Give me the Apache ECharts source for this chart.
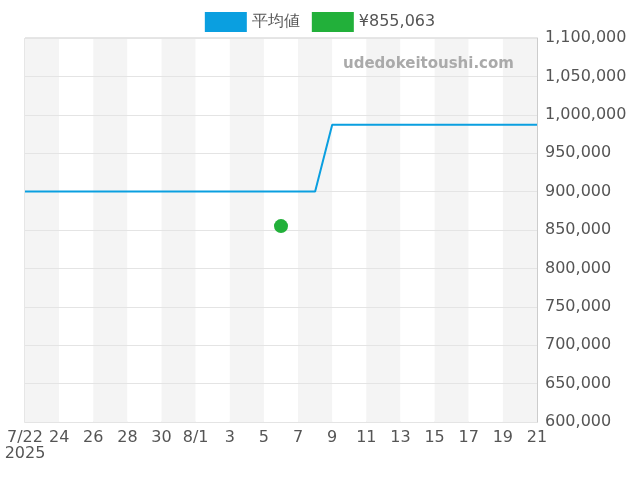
<!DOCTYPE html>
<html><head><meta charset="utf-8">
<script src="https://cdn.jsdelivr.net/npm/echarts@6/dist/echarts.min.js"></script>
<style>html,body{margin:0;padding:0}#c{width:640px;height:480px}</style>
</head><body><div id="c"></div>
<script>
const categories = ['7/22','7/23','7/24','7/25','7/26','7/27','7/28','7/29','7/30','7/31','8/1','8/2','8/3','8/4','8/5','8/6','8/7','8/8','8/9','8/10','8/11','8/12','8/13','8/14','8/15','8/16','8/17','8/18','8/19','8/20','8/21'];
const avgValues = [900000,900000,900000,900000,900000,900000,900000,900000,900000,900000,900000,900000,900000,900000,900000,900000,900000,900000,987000,987000,987000,987000,987000,987000,987000,987000,987000,987000,987000,987000,987000];
const pointValues = [null,null,null,null,null,null,null,null,null,null,null,null,null,null,null,855063,null,null,null,null,null,null,null,null,null,null,null,null,null,null,null];
const yTicks = {min:600000,max:1100000,interval:50000};
const F = 'DejaVu Sans';
const chart = echarts.init(document.getElementById('c'));
chart.setOption({
  animation:false,
  textStyle:{fontFamily:F},
  legend:{top:7,left:'center',itemWidth:42,itemHeight:20,itemGap:12,textStyle:{fontSize:16,color:'#555',fontFamily:F},
    data:[{name:'平均値',icon:'rect'},{name:'¥855,063',icon:'rect'}]},
  grid:{left:25,right:103,top:38,bottom:58,show:true,borderColor:'#ccc',borderWidth:1,backgroundColor:'transparent'},
  graphic:[{type:'text',left:343,top:57,z:100,style:{text:'udedokeitoushi.com',fill:'#aaa',fontSize:15,fontWeight:'bold',fontFamily:F}}],
  xAxis:{type:'category',data:categories,boundaryGap:false,z:0,
    axisLine:{lineStyle:{color:'#ccc'}},axisTick:{show:false,interval:1},
    axisLabel:{interval:1,fontSize:16,color:'#555',fontFamily:F,formatter:(v,i)=>{
      let s=v;
      if(v!=='7/22'&&v!=='8/1')s=v.split('/')[1];
      return i===0?s+'\n2025':s;}},
    splitLine:{show:false},
    splitArea:{show:true,interval:1,areaStyle:{color:['#f4f4f4','#ffffff']}}},
  yAxis:{type:'value',position:'right',min:yTicks.min,max:yTicks.max,interval:yTicks.interval,z:1,
    axisLine:{show:true,lineStyle:{color:'#ccc'}},
    axisLabel:{fontSize:16,color:'#555',fontFamily:F,formatter:v=>v.toLocaleString('en-US')},
    splitLine:{lineStyle:{color:'#e4e4e4'}}},
  series:[
    {name:'平均値',type:'line',z:3,data:avgValues,symbol:'none',lineStyle:{color:'#0a9fe0',width:2},itemStyle:{color:'#0a9fe0'}},
    {name:'¥855,063',type:'scatter',z:4,data:pointValues,symbolSize:14,itemStyle:{color:'#22b03a',opacity:1}}
  ]
});
</script></body></html>
